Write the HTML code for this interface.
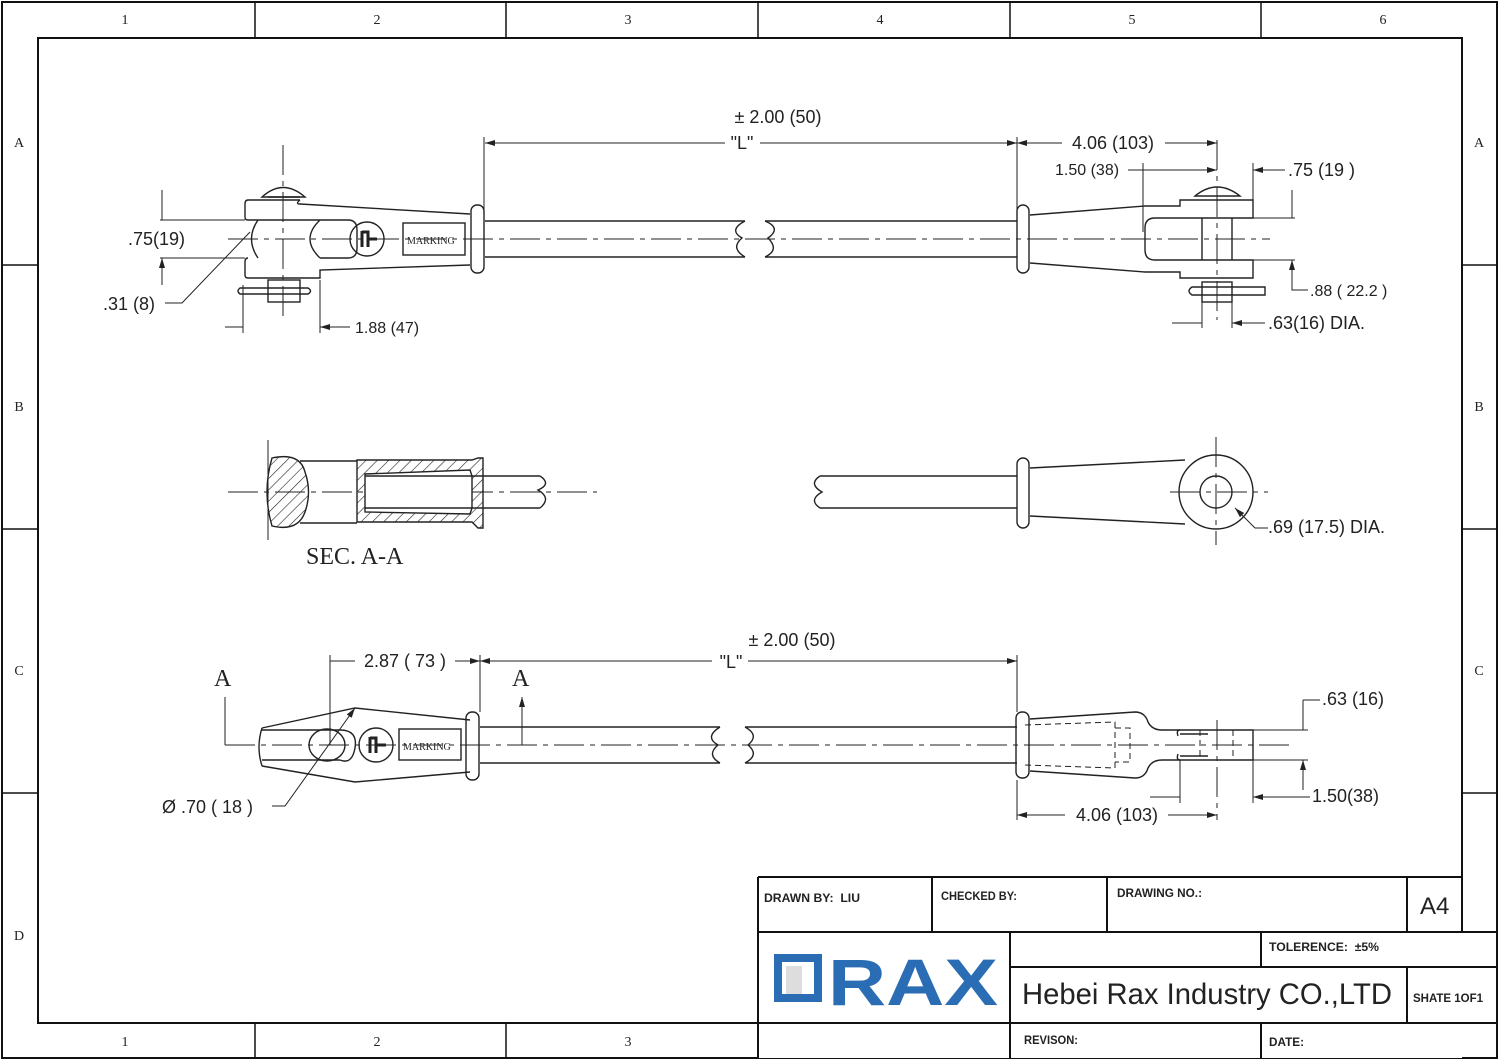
<!DOCTYPE html>
<html><head><meta charset="utf-8"><style>
html,body{margin:0;padding:0;background:#fff}
svg{display:block}
.t{font-family:"Liberation Sans",sans-serif;fill:#222}
.s{font-family:"Liberation Serif",serif;fill:#222}
</style></head><body>
<svg width="1500" height="1062" viewBox="0 0 1500 1062" xmlns="http://www.w3.org/2000/svg">
<defs>
<marker id="a" viewBox="0 0 10 6" refX="10" refY="3" markerWidth="10" markerHeight="6" orient="auto-start-reverse" markerUnits="userSpaceOnUse"><path d="M0,0 L10,3 L0,6 z" fill="#222"/></marker>
<pattern id="h" width="8" height="8" patternUnits="userSpaceOnUse" patternTransform="rotate(45)"><line x1="0" y1="0" x2="0" y2="8" stroke="#222" stroke-width="1.2"/></pattern>
</defs>
<rect width="1500" height="1062" fill="#fff"/>
<g fill="none" stroke="#111">
<rect x="2" y="2" width="1495" height="1056" stroke-width="2"/>
<path d="M758 1023H38V38H1462V932" stroke-width="2"/>
<path d="M255 2V38M506 2V38M758 2V38M1010 2V38M1261 2V38M255 1023V1058M506 1023V1058M758 1023V1058M2 265H38M2 529H38M2 793H38M1462 265H1497M1462 529H1497M1462 793H1497" stroke-width="1.5"/>
</g>
<g class="s" font-size="14" text-anchor="middle">
<text x="125" y="24">1</text><text x="377" y="24">2</text><text x="628" y="24">3</text><text x="880" y="24">4</text><text x="1132" y="24">5</text><text x="1383" y="24">6</text>
<text x="125" y="1046">1</text><text x="377" y="1046">2</text><text x="628" y="1046">3</text>
<text x="19" y="147">A</text><text x="19" y="411">B</text><text x="19" y="675">C</text><text x="19" y="940">D</text>
<text x="1479" y="147">A</text><text x="1479" y="411">B</text><text x="1479" y="675">C</text>
</g>

<g fill="none" stroke="#222" stroke-width="1.4">
<!-- TOP ROW -->
<path d="M228 239H1270" stroke-width="1" stroke-dasharray="30 6 5 6"/>
<path d="M283 145V320M1217 140V320" stroke-width="1" stroke-dasharray="30 6 5 6"/>
<path d="M262 197 Q283 178 305 197 Z"/>
<path d="M268 197H300"/>
<path d="M300 200H248 Q245 200 245 204V217 Q245 220 248 220H320"/>
<path d="M300 200 Q295 204 300 204 L470 214"/>
<path d="M258 220 Q245 239 258 258M320 220 Q300 239 320 258"/>
<path d="M320 220H348 Q357 220 357 230V248 Q357 258 348 258H320"/>
<path d="M248 258 Q245 258 245 262V275 Q245 278 248 278H320V270 L470 265"/>
<rect x="471" y="205" width="13" height="68" rx="6"/>
<circle cx="367" cy="239" r="17"/>
<path d="M362 231V247M362 232H368V247M368 239H377" stroke-width="3"/>
<rect x="403" y="223" width="62" height="32"/>
<rect x="268" y="280" width="32" height="22"/>
<path d="M240 288H308 Q313 291 308 294H240 Q236 291 240 288Z"/>
<path d="M485 221H745M485 257H745"/>
<path d="M745 221 Q728 230 742 238 Q730 248 745 257" />
<path d="M765 221H1017M765 257H1017"/>
<path d="M765 221 Q782 228 768 238 Q780 250 765 257"/>
<rect x="1017" y="205" width="12" height="68" rx="6"/>
<path d="M1030 215 L1145 206H1180V200H1253V218H1155 Q1145 218 1145 228V250 Q1145 260 1155 260H1253V278H1180V272H1145 L1030 263"/>
<path d="M1202 218V260M1232 218V260"/>
<path d="M1195 196 Q1217 178 1240 196 Z"/>
<rect x="1202" y="282" width="30" height="20"/>
<path d="M1192 287H1265V295H1192 Q1186 291 1192 287Z"/>
<path d="M484 137V212M1017 137V212" stroke-width="1"/>
<path d="M485 143H725M760 143H1017" stroke-width="1" marker-start="url(#a)" marker-end="url(#a)"/>
<path d="M1017 143H1062M1165 143H1217" stroke-width="1" marker-start="url(#a)" marker-end="url(#a)"/>
<path d="M1143 163V232M1253 163V200" stroke-width="1"/>
<path d="M1128 170H1143M1143 170H1217" stroke-width="1" marker-end="url(#a)"/>
<path d="M1285 170H1253" stroke-width="1" marker-end="url(#a)"/>
<path d="M160 220H245M160 258H245" stroke-width="1"/>
<path d="M162 190V220M162 285V258" stroke-width="1" marker-end="url(#a)"/>
<path d="M165 303H182 L250 232" stroke-width="1"/>
<path d="M243 285V333M320 280V333" stroke-width="1"/>
<path d="M225 327H243M350 327H320" stroke-width="1" marker-end="url(#a)"/>
<path d="M1253 218H1295M1253 260H1295" stroke-width="1"/>
<path d="M1292 190V218M1292 290V260" stroke-width="1" marker-end="url(#a)"/>
<path d="M1292 260V290H1308" stroke-width="1"/>
<path d="M1202 300V328M1232 300V328" stroke-width="1"/>
<path d="M1172 323H1202M1265 323H1232" stroke-width="1" marker-end="url(#a)"/>

<!-- MIDDLE ROW -->
<path d="M228 492H597M1170 492H1268M1216 437V545" stroke-width="1" stroke-dasharray="30 6 5 6"/>
<path d="M268 440V540" stroke-width="1"/>
<path d="M272 458 Q300 452 305 472 Q312 492 305 512 Q298 532 272 526 Q262 492 272 458Z" fill="url(#h)"/>
<path d="M300 461H357M300 523H357"/>
<path d="M357 460H472 L478 458H483V528H478L472 522H357Z" fill="url(#h)"/>
<path d="M365 474 L470 470 L472 476V508 L470 514 L365 512 Z" fill="#fff"/>
<path d="M365 476H540M365 508H540 M540 476 Q552 484 538 490 Q552 498 540 508"/>
<path d="M820 476H1017M820 508H1017 M820 476 Q808 484 822 492 Q808 500 820 508"/>
<rect x="1017" y="458" width="12" height="70" rx="6"/>
<path d="M1030 468 L1185 460M1030 516 L1185 524"/>
<circle cx="1216" cy="492" r="37"/>
<circle cx="1216" cy="492" r="16"/>
<path d="M1235 508 L1255 528H1268" stroke-width="1" marker-start="url(#a)"/>

<!-- BOTTOM ROW -->
<path d="M225 745H1290" stroke-width="1" stroke-dasharray="30 6 5 6"/>
<path d="M1217 720V820" stroke-width="1" stroke-dasharray="30 6 5 6"/>
<path d="M225 745V697M522 745V697" stroke-width="1" marker-end="url(#a)"/>
<path d="M262 728 L355 708 L470 720M262 766 L355 782 L470 772 M262 728 Q256 747 262 766"/>
<path d="M262 730H340M262 760H340"/>
<ellipse cx="327" cy="745" rx="18" ry="16"/>
<path d="M340 730 Q358 730 355 748 Q352 765 340 760"/>
<circle cx="376" cy="745" r="17"/>
<path d="M370 737V753M370 738H376V753M376 745H386" stroke-width="3"/>
<rect x="399" y="729" width="62" height="31"/>
<rect x="466" y="712" width="13" height="68" rx="6"/>
<path d="M480 727H720M480 763H720 M720 727 Q704 737 718 745 Q706 755 720 763"/>
<path d="M745 727H1017M745 763H1017 M745 727 Q760 735 748 745 Q760 755 745 763"/>
<rect x="1016" y="712" width="13" height="66" rx="6"/>
<path d="M1030 719 L1135 712 Q1145 712 1148 722 Q1152 730 1162 730H1180M1030 771 L1135 778 Q1145 778 1148 768 Q1152 760 1162 760H1180"/>
<path d="M1180 730H1253V760H1180 Q1176 760 1178 754 M1180 730 Q1176 730 1178 736 M1180 734H1208M1180 756H1208"/>
<path d="M1025 725 L1115 722V768 L1025 765M1115 728H1130V762H1115M1200 730V760M1233 730V760" stroke-width="1" stroke-dasharray="6 4"/>
<path d="M330 655V745M480 655V712" stroke-width="1"/>
<path d="M355 661H330M455 661H480" stroke-width="1" marker-end="url(#a)"/>
<path d="M480 661H712M748 661H1017" stroke-width="1" marker-start="url(#a)" marker-end="url(#a)"/>
<path d="M1017 655V712" stroke-width="1"/>
<path d="M272 806H285 L355 708" stroke-width="1" marker-end="url(#a)"/>
<path d="M1253 730H1308M1253 760H1308" stroke-width="1"/>
<path d="M1303 700V730M1303 790V760" stroke-width="1" marker-end="url(#a)"/>
<path d="M1303 700H1320" stroke-width="1"/>
<path d="M1180 760V803M1253 760V803" stroke-width="1"/>
<path d="M1150 797H1180M1310 797H1253" stroke-width="1" marker-end="url(#a)"/>
<path d="M1017 780V820" stroke-width="1"/>
<path d="M1017 815H1065M1168 815H1217" stroke-width="1" marker-start="url(#a)" marker-end="url(#a)"/>
</g>

<g class="t" font-size="18">
<text x="778" y="123" text-anchor="middle">± 2.00 (50)</text>
<text x="742" y="149" text-anchor="middle">"L"</text>
<text x="1113" y="149" text-anchor="middle">4.06 (103)</text>
<text x="1055" y="175" font-size="16">1.50 (38)</text>
<text x="1288" y="176">.75 (19 )</text>
<text x="128" y="245">.75(19)</text>
<text x="103" y="310">.31 (8)</text>
<text x="355" y="333" font-size="16">1.88 (47)</text>
<text x="1310" y="296" font-size="16">.88 ( 22.2 )</text>
<text x="1268" y="329">.63(16) DIA.</text>
<text x="1268" y="533">.69 (17.5) DIA.</text>
<text x="792" y="646" text-anchor="middle">± 2.00 (50)</text>
<text x="731" y="668" text-anchor="middle">"L"</text>
<text x="405" y="667" text-anchor="middle">2.87 ( 73 )</text>
<text x="162" y="813">Ø .70 ( 18 )</text>
<text x="1322" y="705">.63 (16)</text>
<text x="1312" y="802">1.50(38)</text>
<text x="1117" y="821" text-anchor="middle">4.06 (103)</text>
</g>
<g class="s">
<text x="407" y="244" font-size="10">MARKING</text>
<text x="403" y="750" font-size="10">MARKING</text>
<text x="306" y="564" font-size="24">SEC. A-A</text>
<text x="214" y="686" font-size="24">A</text>
<text x="512" y="686" font-size="24">A</text>
</g>

<!-- title block -->
<rect x="758" y="877" width="704" height="181" fill="#fff"/>
<g fill="none" stroke="#111" stroke-width="2">
<path d="M758 877H1462M758 932H1497M1010 967H1497M758 1023H1497M758 877V1058M932 877V932M1107 877V932M1407 877V932M1010 932V1058M1261 932V967M1407 967V1023M1261 1023V1058M1462 877V932"/>
</g>
<g class="t" font-size="12" font-weight="bold">
<text x="764" y="902" textLength="96" lengthAdjust="spacingAndGlyphs">DRAWN BY:&#160;&#160;LIU</text>
<text x="941" y="900" textLength="76" lengthAdjust="spacingAndGlyphs">CHECKED BY:</text>
<text x="1117" y="897" textLength="85" lengthAdjust="spacingAndGlyphs">DRAWING NO.:</text>
<text x="1269" y="951" textLength="110" lengthAdjust="spacingAndGlyphs">TOLERENCE:&#160;&#160;±5%</text>
<text x="1413" y="1002" textLength="70" lengthAdjust="spacingAndGlyphs">SHATE 1OF1</text>
<text x="1024" y="1044" textLength="54" lengthAdjust="spacingAndGlyphs">REVISON:</text>
<text x="1269" y="1046" textLength="35" lengthAdjust="spacingAndGlyphs">DATE:</text>
</g>
<text class="t" x="1420" y="914" font-size="24">A4</text>
<text class="t" x="1022" y="1004" font-size="30" textLength="370" lengthAdjust="spacingAndGlyphs">Hebei Rax Industry CO.,LTD</text>
<g fill="#2a6db5">
<rect x="774" y="954" width="48" height="48" fill="#2a6db5"/>
<rect x="782" y="962" width="32" height="32" fill="#fff"/>
<rect x="786" y="966" width="16" height="28" fill="#ddd"/>
<path d="M790 958H818V998" fill="none" stroke="#2a6db5" stroke-width="5"/>
<text x="828" y="1005" font-family="'Liberation Sans',sans-serif" font-weight="bold" font-size="66" fill="#2a6db5" textLength="170" lengthAdjust="spacingAndGlyphs">RAX</text>
</g>
</svg>
</body></html>
